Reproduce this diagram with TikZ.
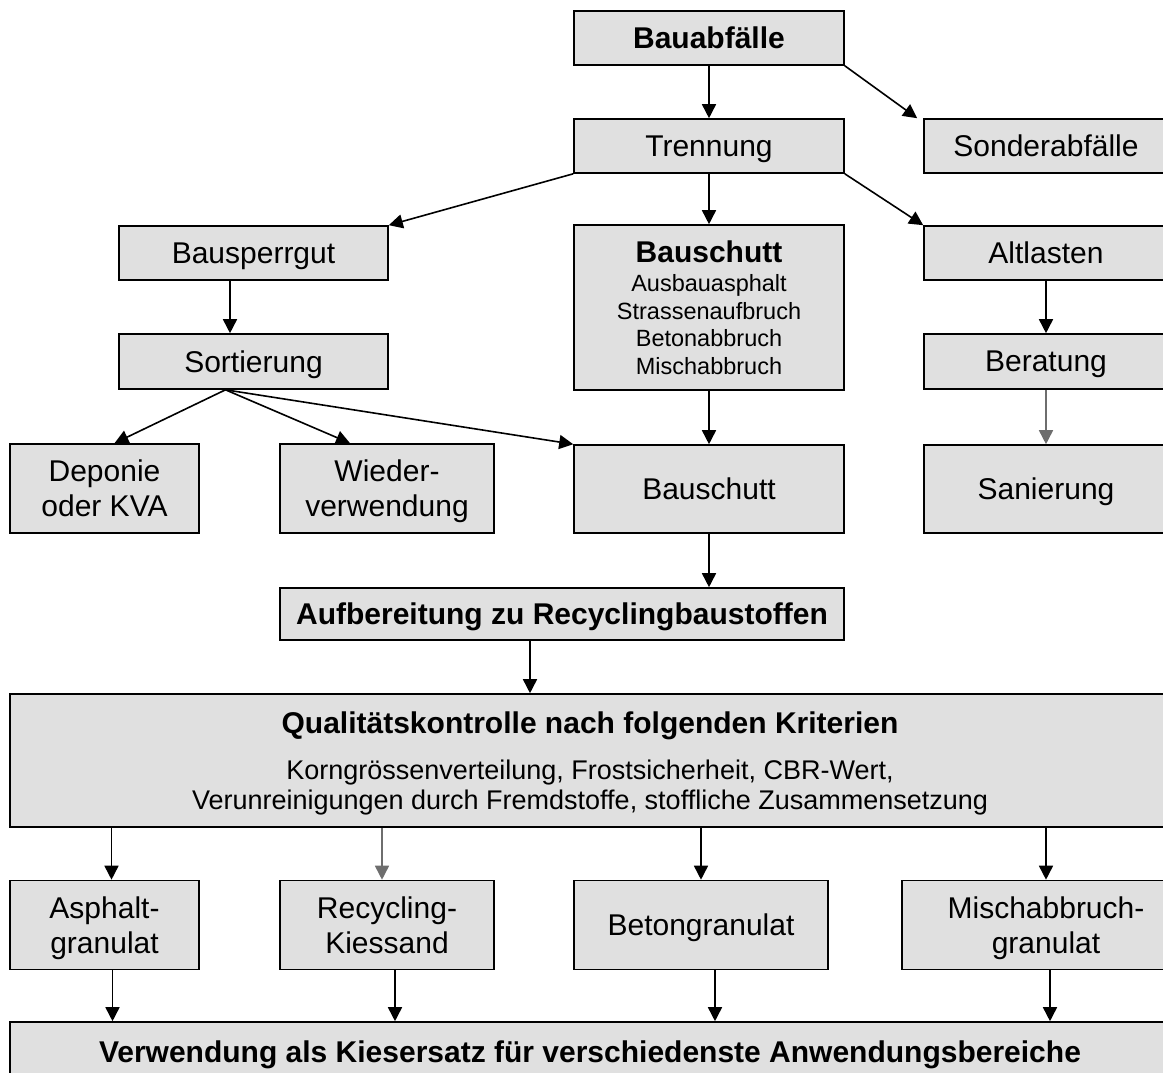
\documentclass[tikz,border=0pt]{standalone}
\usepackage{fontspec}
\setmainfont{Liberation Sans}
\usetikzlibrary{arrows.meta}
\definecolor{boxgray}{RGB}{224,224,224}
\definecolor{lightline}{RGB}{110,110,110}
\newcommand{\bigfont}{\fontsize{30}{35}\selectfont}
\tikzset{
    box/.style={draw, fill=boxgray, line width=1.6pt, align=center, inner sep=0pt,
        text depth=0pt, font=\bigfont},
    conn/.style={line width=1.6pt, -{Triangle[length=14pt, width=14pt]}},
}
\begin{document}
\begin{tikzpicture}[x=1pt, y=-1pt]
    \useasboundingbox (0,0) rectangle (1163,1072);
    % top
    \node[box, minimum width=270pt, minimum height=54pt] (bauab) at (709,38) {\textbf{Bauabfälle}};
    \node[box, minimum width=270pt, minimum height=54pt] (trenn) at (709,146) {Trennung};
    \node[box, minimum width=244pt, minimum height=54pt] (sonder) at (1046,146) {Sonderabfälle};
    % second row
    \node[box, minimum width=269pt, minimum height=54pt] (sperr) at (253.5,253) {Bausperrgut};
    \node[box, minimum width=270pt, minimum height=165pt, font=\fontsize{23.5}{27.5}\selectfont] (schutt) at (709,307.5)
        {{\bigfont\textbf{Bauschutt}}\\[2pt]
         Ausbauasphalt\\Strassenaufbruch\\Betonabbruch\\Mischabbruch};
    \node[box, minimum width=244pt, minimum height=54pt] (altl) at (1046,253) {Altlasten};
    \node[box, minimum width=269pt, minimum height=55pt] (sort) at (253.5,361.5) {Sortierung};
    \node[box, minimum width=244pt, minimum height=55pt] (berat) at (1046,361.5) {Beratung};
    % third row
    \node[box, minimum width=189pt, minimum height=89pt] (depo) at (104.5,488.5) {Deponie\\oder KVA};
    \node[box, minimum width=214pt, minimum height=89pt] (wieder) at (387,488.5) {Wieder-\\verwendung};
    \node[box, minimum width=270pt, minimum height=88pt] (schutt2) at (709,489) {Bauschutt};
    \node[box, minimum width=244pt, minimum height=88pt] (sanier) at (1046,489) {Sanierung};
    % processing
    \node[box, minimum width=564pt, minimum height=52pt] (aufb) at (562,614)
        {\textbf{Aufbereitung zu Recyclingbaustoffen}};
    \node[box, minimum width=1160pt, minimum height=133pt, font=\fontsize{27}{30}\selectfont] (qual) at (590,760.5)
        {{\bigfont\textbf{Qualitätskontrolle nach folgenden Kriterien}}\\[16pt]
         Korngrössenverteilung, Frostsicherheit, CBR-Wert,\\
         Verunreinigungen durch Fremdstoffe, stoffliche Zusammensetzung};
    % products
    \node[box, minimum width=189pt, minimum height=89pt] (asph) at (104.5,925) {Asphalt-\\granulat};
    \node[box, minimum width=214pt, minimum height=89pt] (kies) at (387,925) {Recycling-\\Kiessand};
    \node[box, minimum width=254pt, minimum height=89pt] (beton) at (701,925) {Betongranulat};
    \node[box, minimum width=288pt, minimum height=89pt] (misch) at (1046,925) {Mischabbruch-\\granulat};
    \node[box, minimum width=1160pt, minimum height=60pt] (verw) at (590,1052)
        {\textbf{Verwendung als Kiesersatz für verschiedenste Anwendungsbereiche}};
    % connectors
    \draw[conn] (bauab) -- (trenn);
    \draw[conn] (bauab.south east) -- ([xshift=-6pt]sonder.north west);
    \draw[conn] (trenn.south west) -- (sperr.north east);
    \draw[conn] (trenn) -- (schutt);
    \draw[conn] (trenn.south east) -- (altl.north west);
    \draw[conn] ([xshift=-23.5pt]sperr.south) -- ([xshift=-23.5pt]sort.north);
    \draw[conn] ([xshift=-28pt]sort.south) -- ([xshift=10pt]depo.north);
    \draw[conn] ([xshift=-28pt]sort.south) -- ([xshift=-37pt]wieder.north);
    \draw[conn] ([xshift=-28pt]sort.south) -- (schutt2.north west);
    \draw[conn] (schutt) -- (schutt2);
    \draw[conn] (altl) -- (berat);
    \draw[conn, lightline] (berat) -- (sanier);
    \draw[conn] (schutt2.south) -- (schutt2.south |- aufb.north);
    \draw[conn] ([xshift=-32pt]aufb.south) -- ([xshift=-32pt]aufb.south |- qual.north);
    \draw[conn] ([xshift=7pt]asph.north |- qual.south) -- ([xshift=7pt]asph.north);
    \draw[conn, lightline] ([xshift=-5pt]kies.north |- qual.south) -- ([xshift=-5pt]kies.north);
    \draw[conn] (beton.north |- qual.south) -- (beton.north);
    \draw[conn] (misch.north |- qual.south) -- (misch.north);
    \draw[conn] ([xshift=8pt]asph.south) -- ([xshift=8pt]asph.south |- verw.north);
    \draw[conn] ([xshift=8pt]kies.south) -- ([xshift=8pt]kies.south |- verw.north);
    \draw[conn] ([xshift=14pt]beton.south) -- ([xshift=14pt]beton.south |- verw.north);
    \draw[conn] ([xshift=4pt]misch.south) -- ([xshift=4pt]misch.south |- verw.north);
\end{tikzpicture}
\end{document}
